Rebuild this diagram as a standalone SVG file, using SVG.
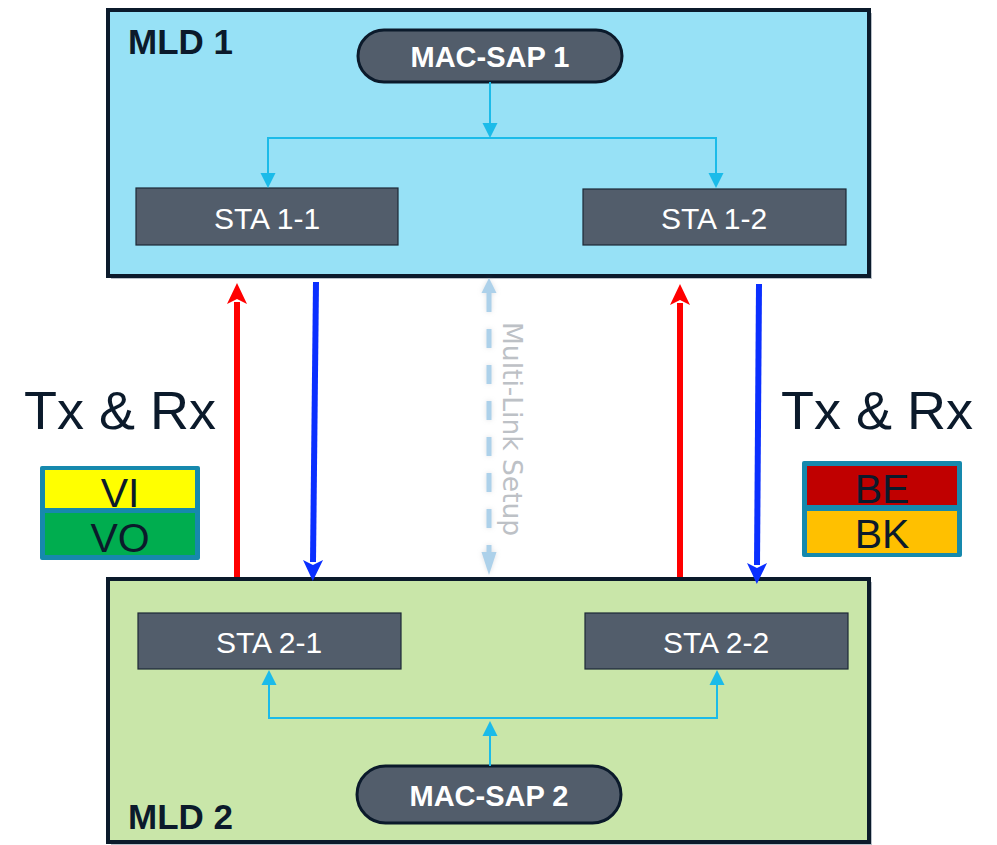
<svg xmlns="http://www.w3.org/2000/svg" width="997" height="845" viewBox="0 0 997 845">
  <style>
    .frame { stroke: #0b1a2b; stroke-width: 4; }
    .shadow { fill: #8a96a3; opacity: 0.6; }
    .mld-label { font-family: "Liberation Sans", Arial, sans-serif; font-weight: bold; font-size: 35px; fill: #0b1a2b; }
    .sap { fill: #525d6b; stroke: #0b1a2b; stroke-width: 3; }
    .sap-text { font-family: "Liberation Sans", Arial, sans-serif; font-weight: bold; font-size: 29px; fill: #ffffff; text-anchor: middle; }
    .sta { fill: #525d6b; stroke: #1d2836; stroke-width: 1.2; }
    .sta-text { font-family: "Liberation Sans", Arial, sans-serif; font-size: 30px; fill: #ffffff; text-anchor: middle; }
    .txrx { font-family: "Liberation Sans", Arial, sans-serif; font-size: 54px; fill: #0b1a2b; }
    .ac-text { font-family: "Liberation Sans", Arial, sans-serif; font-size: 41px; fill: #0b1a2b; text-anchor: middle; }
    .ac-frame { fill: #1689ad; }
    .cyan { stroke: #1bbbe9; stroke-width: 2; fill: none; }
    .red { stroke: #ff0000; stroke-width: 6; fill: none; }
    .blue { stroke: #0a2fff; stroke-width: 6; fill: none; }
    .setup { stroke: #add1ea; stroke-width: 5; fill: none; }
    .setup-text { font-family: "DejaVu Sans", sans-serif; font-size: 26.5px; fill: #bdc1c6; }
  </style>
  <defs>
    <marker id="cyanHead" markerUnits="userSpaceOnUse" viewBox="0 -8 15 16" refX="0" refY="0" markerWidth="15" markerHeight="16" orient="auto" overflow="visible">
      <path d="M0,-7.5 L15,0 L0,7.5 z" fill="#1bbbe9"/>
    </marker>
    <marker id="redHead" markerUnits="userSpaceOnUse" viewBox="0 -10 19 20" refX="0" refY="0" markerWidth="19" markerHeight="20" orient="auto" overflow="visible">
      <path d="M-2,-10 L19,0 L-2,10 L3,0 z" fill="#ff0000"/>
    </marker>
    <marker id="blueHead" markerUnits="userSpaceOnUse" viewBox="0 -10 19 20" refX="0" refY="0" markerWidth="19" markerHeight="20" orient="auto" overflow="visible">
      <path d="M-2,-10 L19,0 L-2,10 L3,0 z" fill="#0a2fff"/>
    </marker>
    <filter id="glow" filterUnits="userSpaceOnUse" x="460" y="265" width="60" height="320">
      <feDropShadow dx="0" dy="0" stdDeviation="2.5" flood-color="#9aa3ad" flood-opacity="0.35"/>
    </filter>
  </defs>

  <g id="mld1">
    <rect class="shadow" x="111" y="13" width="761" height="266"/>
    <rect class="frame" x="108" y="10" width="761" height="266" fill="#97e1f6"/>
    <text class="mld-label" x="128" y="54">MLD 1</text>
  </g>

  <g id="mld2">
    <rect class="shadow" x="111" y="582" width="761" height="263"/>
    <rect class="frame" x="108" y="579" width="761" height="263" fill="#c9e6a9"/>
    <text class="mld-label" x="128" y="829">MLD 2</text>
  </g>

  <g id="mac-sap-1">
    <rect class="sap" x="358" y="30" width="264" height="52" rx="26" ry="26"/>
    <text class="sap-text" x="490" y="67">MAC-SAP 1</text>
  </g>

  <g id="sta-1-1">
    <rect class="sta" x="136" y="188" width="262" height="57"/>
    <text class="sta-text" x="267" y="229">STA 1-1</text>
  </g>

  <g id="sta-1-2">
    <rect class="sta" x="583" y="189" width="263" height="56"/>
    <text class="sta-text" x="714" y="229">STA 1-2</text>
  </g>

  <g id="sta-2-1">
    <rect class="sta" x="138" y="613" width="263" height="56"/>
    <text class="sta-text" x="269" y="653">STA 2-1</text>
  </g>

  <g id="sta-2-2">
    <rect class="sta" x="585" y="613" width="263" height="56"/>
    <text class="sta-text" x="716" y="653">STA 2-2</text>
  </g>

  <g id="mac-sap-2">
    <rect class="sap" x="357" y="766" width="264" height="57" rx="28.5" ry="28.5"/>
    <text class="sap-text" x="489" y="806">MAC-SAP 2</text>
  </g>

  <g id="txrx-left">
    <text class="txrx" x="24" y="429">Tx &amp; Rx</text>
  </g>

  <g id="ac-vi-vo">
    <rect class="ac-frame" x="40" y="466" width="160" height="94" rx="2"/>
    <rect x="45" y="470" width="150" height="38" fill="#ffff00"/>
    <rect x="45" y="513" width="150" height="42" fill="#00ad4f"/>
    <text class="ac-text" x="120" y="507">VI</text>
    <text class="ac-text" x="120" y="552">VO</text>
  </g>

  <g id="txrx-right">
    <text class="txrx" x="781" y="429">Tx &amp; Rx</text>
  </g>

  <g id="ac-be-bk">
    <rect class="ac-frame" x="802" y="461" width="160" height="96" rx="2"/>
    <rect x="807" y="466" width="150" height="39" fill="#c00000"/>
    <rect x="807" y="511" width="150" height="42" fill="#ffc000"/>
    <text class="ac-text" x="882" y="503">BE</text>
    <text class="ac-text" x="882" y="548">BK</text>
  </g>

  <g id="connectors">
    <!-- MLD 1 internal -->
    <line class="cyan" x1="490" y1="82" x2="490" y2="123" marker-end="url(#cyanHead)"/>
    <polyline class="cyan" points="268,174 268,138 716,138 716,174"/>
    <line class="cyan" x1="268" y1="138" x2="268" y2="173" marker-end="url(#cyanHead)"/>
    <line class="cyan" x1="716" y1="138" x2="716" y2="173" marker-end="url(#cyanHead)"/>
    <!-- MLD 2 internal -->
    <line class="cyan" x1="490" y1="766" x2="490" y2="736" marker-end="url(#cyanHead)"/>
    <polyline class="cyan" points="269,684 269,718 717,718 717,684"/>
    <line class="cyan" x1="269" y1="718" x2="269" y2="685" marker-end="url(#cyanHead)"/>
    <line class="cyan" x1="717" y1="718" x2="717" y2="685" marker-end="url(#cyanHead)"/>
    <!-- links -->
    <line class="red" x1="237" y1="577" x2="237" y2="302" marker-end="url(#redHead)"/>
    <line class="blue" x1="316" y1="282" x2="313" y2="562" marker-end="url(#blueHead)"/>
    <line class="red" x1="680" y1="577" x2="680" y2="303" marker-end="url(#redHead)"/>
    <line class="blue" x1="759" y1="284" x2="757" y2="565" marker-end="url(#blueHead)"/>
    <!-- multi-link setup -->
    <g id="multi-link-setup" filter="url(#glow)">
      <line class="setup" x1="489" y1="293" x2="489" y2="553" stroke-dasharray="19 17"/>
      <path d="M481.5,293 L489,278 L496.5,293 z" fill="#add1ea"/>
      <path d="M481.5,552 L489,575 L496.5,552 z" fill="#add1ea"/>
    </g>
  </g>

  <g id="multi-link-label">
    <text class="setup-text" transform="translate(503,322) rotate(90)">Multi-Link Setup</text>
  </g>
</svg>
